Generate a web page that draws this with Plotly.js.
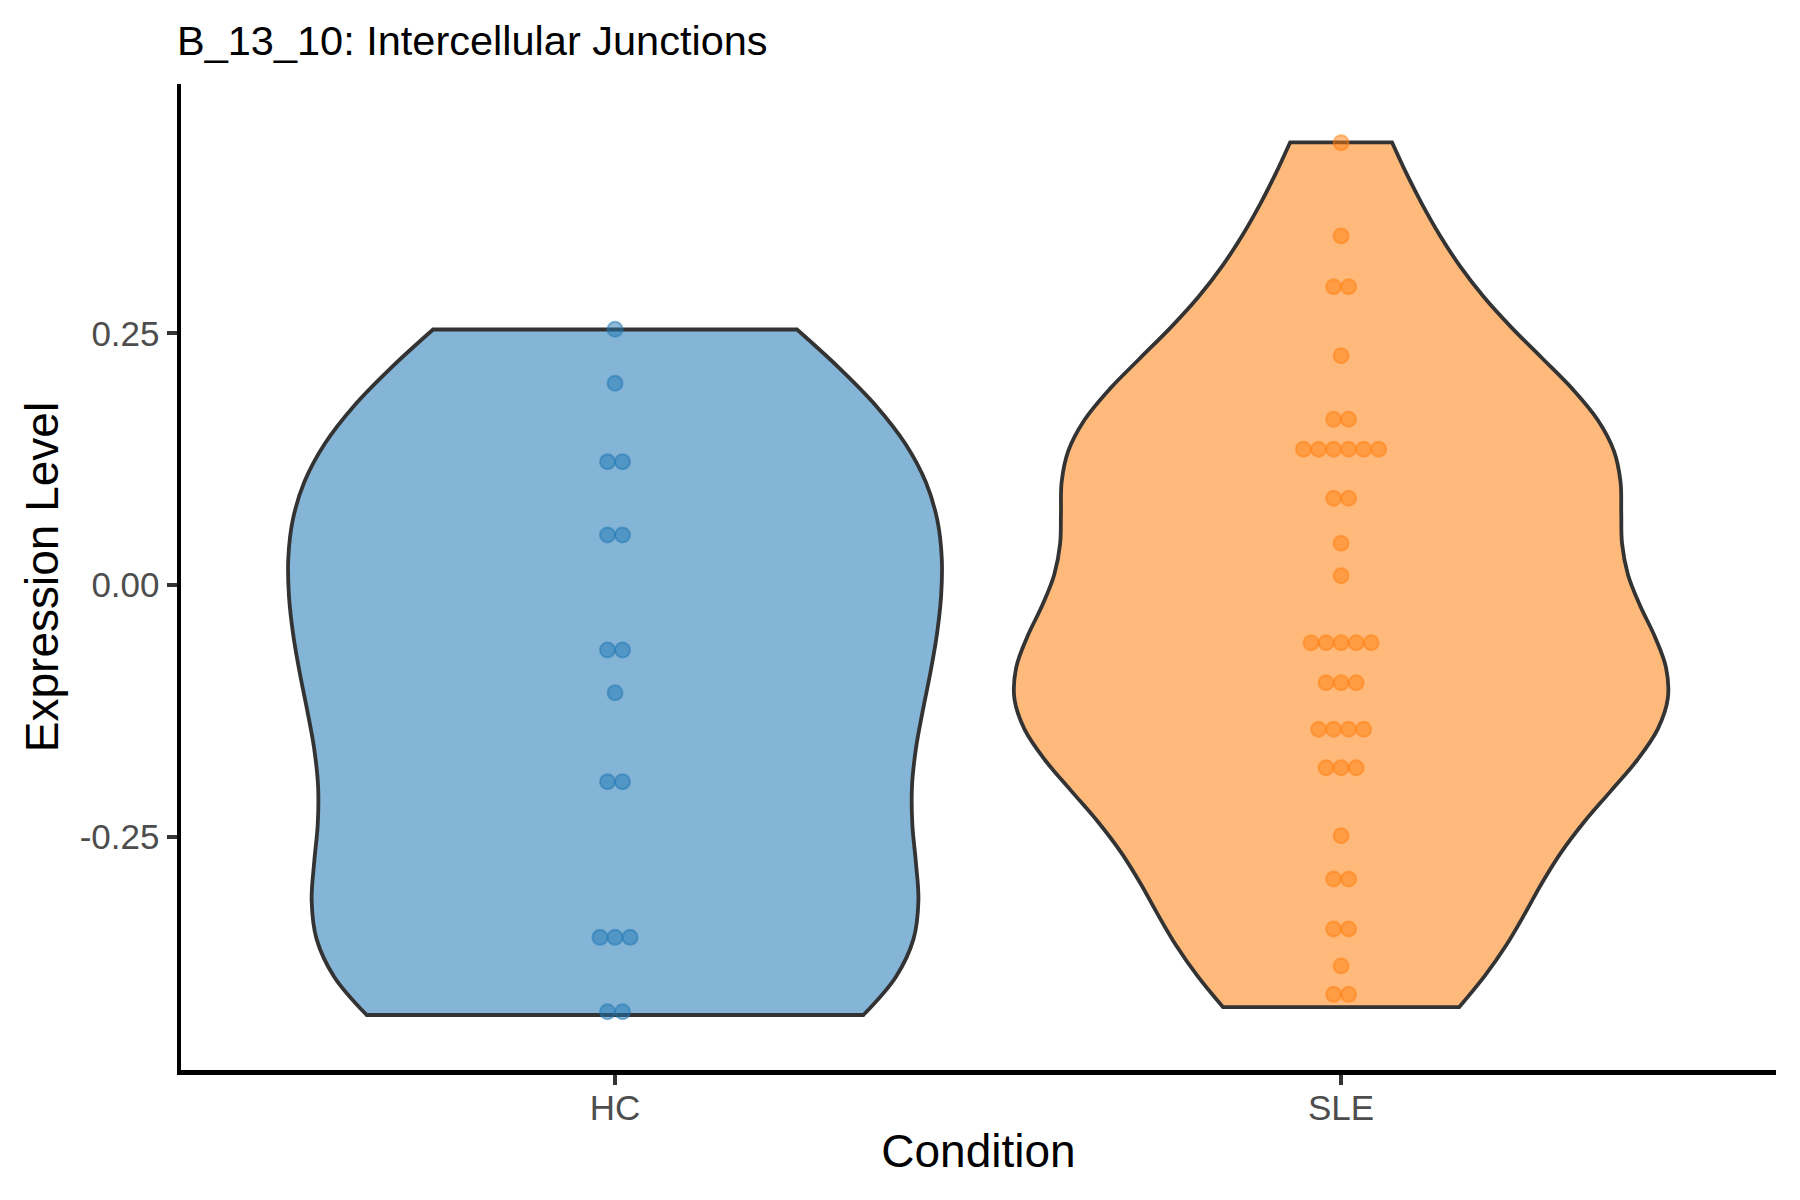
<!DOCTYPE html>
<html>
<head>
<meta charset="utf-8">
<script src="https://cdn.plot.ly/plotly-3.0.1.min.js"></script>
<style>
  html, body { margin: 0; padding: 0; background: #ffffff; }
  #chart { width: 1800px; height: 1200px; }
</style>
</head>
<body>
<div id="chart"></div>
<script>
// ---- data ----
const categories = ["HC", "SLE"];
const categoryPositions = [1, 2];

// HC: dot levels (expression) and how many samples sit at each level
const hcLevels = [0.2541, 0.2005, 0.1226, 0.0499, -0.0644, -0.1068, -0.1951, -0.3497, -0.4235];
const hcCounts = [1, 1, 2, 2, 2, 1, 2, 3, 2];
const hcSpan = [-0.4268, 0.2539];

// SLE
const sleLevels = [0.4394, 0.3468, 0.2964, 0.2279, 0.1647, 0.1350, 0.0863, 0.0416, 0.0094,
                   -0.0571, -0.0968, -0.1431, -0.1812, -0.2488, -0.2918, -0.3414, -0.3781, -0.4063];
const sleCounts = [1, 1, 2, 1, 2, 6, 2, 1, 1, 5, 3, 4, 3, 1, 2, 2, 1, 2];
const sleSpan = [-0.4189, 0.4398];

const yTickVals = [-0.25, 0, 0.25];
const yTickText = ["-0.25", "0.00", "0.25"];

// ---- helpers ----
function expand(levels, counts) {
  const out = [];
  levels.forEach((v, i) => { for (let k = 0; k < counts[i]; k++) out.push(v); });
  return out;
}
function quantile7(sorted, p) {
  const h = (sorted.length - 1) * p;
  const lo = Math.floor(h), hi = Math.ceil(h);
  return sorted[lo] + (h - lo) * (sorted[hi] - sorted[lo]);
}
function nrd0(vals) {
  const n = vals.length;
  const mean = vals.reduce((a, b) => a + b, 0) / n;
  const sd = Math.sqrt(vals.reduce((a, b) => a + (b - mean) * (b - mean), 0) / (n - 1));
  const s = vals.slice().sort((a, b) => a - b);
  const iqr = quantile7(s, 0.75) - quantile7(s, 0.25);
  return 0.9 * Math.min(sd, iqr / 1.34) * Math.pow(n, -0.2);
}
// centred dot stacks (dotplot look)
function stackDots(levels, counts, center, dx) {
  const xs = [], ys = [];
  levels.forEach((v, i) => {
    const k = counts[i];
    for (let j = 0; j < k; j++) {
      xs.push(center + (j - (k - 1) / 2) * dx);
      ys.push(v);
    }
  });
  return { xs, ys };
}

const hcVals = expand(hcLevels, hcCounts);
const sleVals = expand(sleLevels, sleCounts);

const FONT = "Liberation Sans, Arial, Helvetica, sans-serif";
const dotStep = 0.0207;

const hcDots = stackDots(hcLevels, hcCounts, categoryPositions[0], dotStep);
const sleDots = stackDots(sleLevels, sleCounts, categoryPositions[1], dotStep);

const traces = [
  {
    type: "violin", name: categories[0], x0: categoryPositions[0], y: hcVals,
    width: 0.9, spanmode: "manual", span: hcSpan, bandwidth: nrd0(hcVals),
    points: false, box: { visible: false }, meanline: { visible: false },
    fillcolor: "rgba(31,119,180,0.55)", line: { color: "#333333", width: 3.8 },
    hoverinfo: "skip", showlegend: false
  },
  {
    type: "violin", name: categories[1], x0: categoryPositions[1], y: sleVals,
    width: 0.9, spanmode: "manual", span: sleSpan, bandwidth: nrd0(sleVals),
    points: false, box: { visible: false }, meanline: { visible: false },
    fillcolor: "rgba(255,127,14,0.55)", line: { color: "#333333", width: 3.8 },
    hoverinfo: "skip", showlegend: false
  },
  {
    type: "scatter", mode: "markers", x: hcDots.xs, y: hcDots.ys, showlegend: false,
    marker: { size: 15, color: "rgba(31,119,180,0.5)", line: { color: "rgba(31,119,180,0.5)", width: 2 } }
  },
  {
    type: "scatter", mode: "markers", x: sleDots.xs, y: sleDots.ys, showlegend: false,
    marker: { size: 15, color: "rgba(255,127,14,0.5)", line: { color: "rgba(255,127,14,0.5)", width: 2 } }
  }
];

const layout = {
  width: 1800, height: 1200,
  paper_bgcolor: "#ffffff", plot_bgcolor: "#ffffff",
  margin: { l: 181, r: 24, t: 84, b: 130, pad: 0 },
  violinmode: "overlay",
  showlegend: false,
  font: { family: FONT, color: "#000000" },
  title: {
    text: "B_13_10: Intercellular Junctions",
    font: { family: FONT, size: 41.5, color: "#000000" },
    x: 177 / 1800, xref: "container", xanchor: "left",
    y: 1 - 40 / 1200, yref: "container", yanchor: "middle"
  },
  xaxis: {
    range: [0.4022, 2.599], tickvals: categoryPositions, ticktext: categories,
    showgrid: false, zeroline: false, showline: true, linecolor: "#000000", linewidth: 4.5,
    ticks: "outside", ticklen: 10, tickwidth: 4, tickcolor: "#333333",
    ticklabelstandoff: -7,
    tickfont: { family: FONT, size: 35, color: "#4D4D4D" },
    title: { text: "Condition", font: { family: FONT, size: 46, color: "#000000" }, standoff: 11 },
    automargin: false, fixedrange: true
  },
  yaxis: {
    range: [-0.4814, 0.4977], tickvals: yTickVals, ticktext: yTickText,
    showgrid: false, zeroline: false, showline: true, linecolor: "#000000", linewidth: 4.5,
    ticks: "outside", ticklen: 10, tickwidth: 4, tickcolor: "#333333",
    tickfont: { family: FONT, size: 35, color: "#4D4D4D" },
    title: { text: "Expression Level", font: { family: FONT, size: 46, color: "#000000" }, standoff: 8 },
    automargin: false, fixedrange: true
  }
};

Plotly.newPlot("chart", traces, layout, { staticPlot: true, displayModeBar: false });
</script>
</body>
</html>
